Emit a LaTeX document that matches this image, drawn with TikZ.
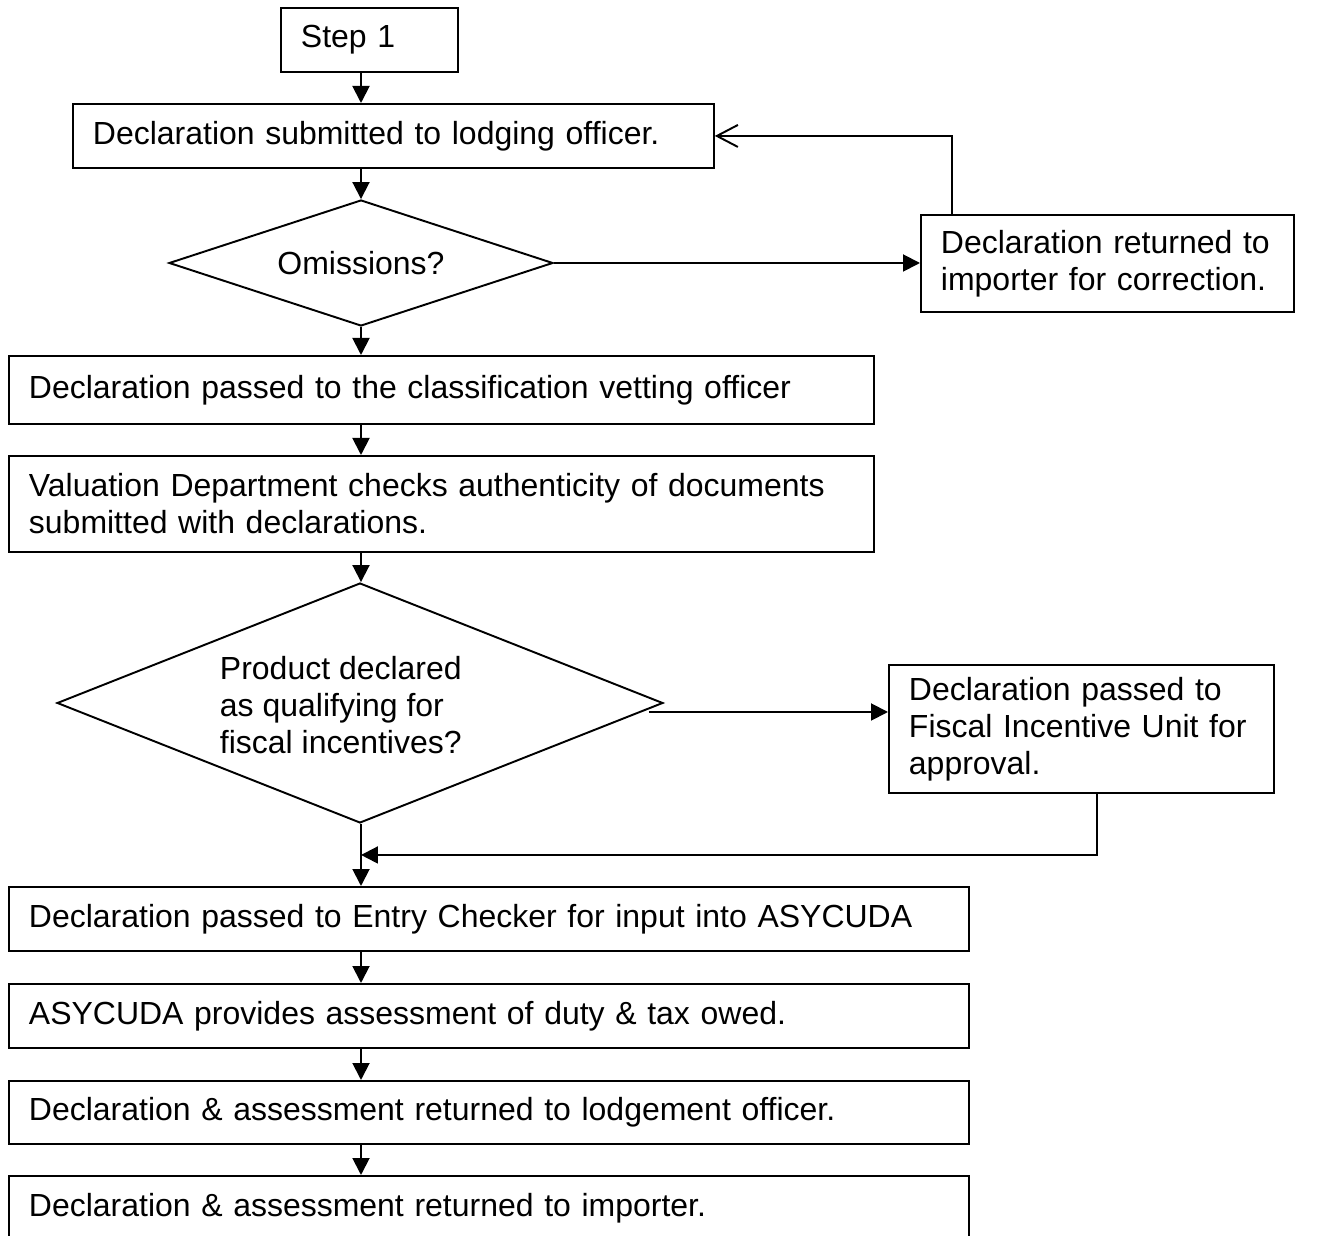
\documentclass[tikz,border=0pt]{standalone}
\usepackage{fontspec}
\setmainfont{Liberation Sans}
\usetikzlibrary{shapes.geometric,arrows.meta,calc}

\begin{document}
\begin{tikzpicture}[x=0.02cm, y=-0.02cm, line width=1.1pt,
		font=\fontsize{18.2}{21}\selectfont]
	
	% Page size of the original scan, bottom box runs off the edge.
	\useasboundingbox (0,0) rectangle (1330,1236);
	
	\tikzstyle{box}=[draw, rectangle, anchor=north west, align=left, inner xsep=0.4cm, inner ysep=0pt]
	\tikzstyle{decision}=[draw, diamond, inner sep=0pt]
	\tikzstyle{flow}=[-{Triangle[length=0.34cm,width=0.34cm]}]
	\tikzstyle{back}=[-{Straight Barb[length=0.42cm,width=0.44cm]}]
	
	\node [box, text width=2.74cm, minimum height=1.28cm] (step) at (280,7) {Step 1};
	\node [box, text width=12.02cm, minimum height=1.28cm] (lodge) at (72,103) {Declaration submitted to lodging officer.};
	\node [decision, shape aspect=3.05, minimum width=7.68cm, minimum height=2.52cm] (omit) at (361,263) {Omissions?};
	\node [box, text width=6.66cm, minimum height=1.94cm] (returned) at (920,214) {Declaration returned to\\importer for correction.};
	\node [box, text width=16.5cm, minimum height=1.36cm] (classify) at (8,355) {Declaration passed to the classification vetting officer};
	\node [box, text width=16.5cm, minimum height=1.92cm] (valuation) at (8,455) {Valuation Department checks authenticity of documents\\submitted with declarations.};
	\node [decision, minimum width=12.12cm, minimum height=4.8cm] (fiscal) at (360,703) {};
	\node [align=left, anchor=west, inner sep=0pt] (fiscaltext) at (219,705) {Product declared\\as qualifying for\\fiscal incentives?};
	\node [box, text width=6.9cm, minimum height=2.56cm] (incentive) at (888,664) {Declaration passed to\\Fiscal Incentive Unit for\\approval.};
	\node [box, text width=18.4cm, minimum height=1.28cm] (entry) at (8,886) {Declaration passed to Entry Checker for input into ASYCUDA};
	\node [box, text width=18.4cm, minimum height=1.28cm] (assess) at (8,983) {ASYCUDA provides assessment of duty \& tax owed.};
	\node [box, text width=18.4cm, minimum height=1.26cm] (lodgement) at (8,1080) {Declaration \& assessment returned to lodgement officer.};
	\node [box, text width=18.4cm, minimum height=1.28cm] (importer) at (8,1175) {Declaration \& assessment returned to importer.};
	
	% main line down the page
	\draw [flow] (step.south -| omit) -- (lodge.north -| omit);
	\draw [flow] (lodge.south -| omit) -- (omit.north);
	\draw [flow] (omit.south) -- (classify.north -| omit);
	\draw [flow] (classify.south -| omit) -- (valuation.north -| omit);
	\draw [flow] (valuation.south -| omit) -- (fiscal.north -| omit);
	\draw [flow] (fiscal.south -| omit) -- (entry.north -| omit);
	\draw [flow] (entry.south -| omit) -- (assess.north -| omit);
	\draw [flow] (assess.south -| omit) -- (lodgement.north -| omit);
	\draw [flow] (lodgement.south -| omit) -- (importer.north -| omit);
	
	% side branches
	\draw [flow] (omit.east) -- (omit.east -| returned.west);
	\draw [back] ([xshift=0.64cm]returned.north west) |- (lodge.east);
	\coordinate (fiscalout) at ([xshift=-0.3cm,yshift=-0.18cm]fiscal.east);
	\draw [flow] (fiscalout) -- (fiscalout -| incentive.west);
	\coordinate (merge) at ($(fiscal.south -| omit)!0.5!(entry.north -| omit)$);
	\draw [flow] ([xshift=4.18cm]incentive.south west) |- (merge);
	
\end{tikzpicture}
\end{document}
